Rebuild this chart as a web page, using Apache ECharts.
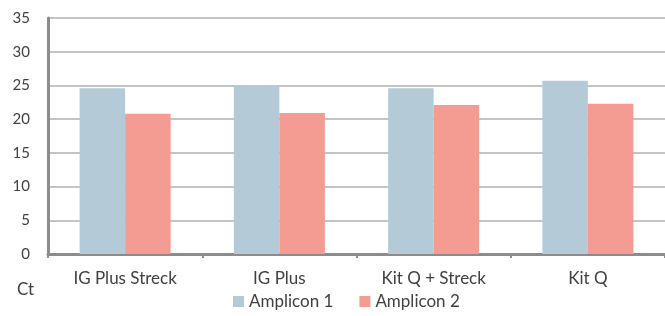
<!DOCTYPE html>
<html>
<head>
<meta charset="utf-8">
<script src="https://cdn.jsdelivr.net/npm/echarts@6/dist/echarts.min.js"></script>
<style>
  html, body { margin: 0; padding: 0; background: #fff; }
  #chart { width: 665px; height: 316px; }
</style>
</head>
<body>
<div id="chart"></div>
<script>
// 数据
const categories = ["IG Plus Streck", "IG Plus", "Kit Q + Streck", "Kit Q"]
const amplicon1 = [24.6, 25.0, 24.6, 25.7]
const amplicon2 = [20.8, 20.9, 22.1, 22.3]
const seriesNames = ["Amplicon 1", "Amplicon 2"]

const textColor = "#404040"
const fontFamily = "Lato, 'Open Sans', sans-serif"

const chart = echarts.init(document.getElementById("chart"), null, { renderer: "canvas" })

const option = {
  backgroundColor: "#fff",
  animation: false,
  grid: { left: 48, right: 0, top: 18, bottom: 62 },
  legend: {
    bottom: 1,
    left: 228,
    itemWidth: 11,
    itemHeight: 11,
    itemGap: 26,
    icon: "rect",
    textStyle: { color: textColor, fontSize: 17, fontFamily: fontFamily },
    data: seriesNames
  },
  graphic: [
    {
      type: "text",
      left: 17,
      top: 281,
      style: { text: "Ct", fill: textColor, fontSize: 17, fontFamily: fontFamily }
    }
  ],
  xAxis: {
    type: "category",
    data: categories,
    axisLine: { lineStyle: { color: "#8c8c8c", width: 3 } },
    axisTick: { show: true, length: 4, lineStyle: { color: "#8c8c8c", width: 2 } },
    axisLabel: { color: textColor, fontSize: 17, fontFamily: fontFamily, margin: 16 }
  },
  yAxis: {
    type: "value",
    min: 0,
    max: 35,
    interval: 5,
    axisLine: { show: true, lineStyle: { color: "#8c8c8c", width: 3 } },
    axisTick: { show: false },
    splitLine: { lineStyle: { color: "#b0b0b0", width: 1.5 } },
    axisLabel: { color: textColor, fontSize: 15, fontFamily: fontFamily, margin: 18 }
  },
  series: [
    {
      name: seriesNames[0],
      type: "bar",
      data: amplicon1,
      barGap: "0%",
      barCategoryGap: "41%",
      itemStyle: { color: "#b4cad6" }
    },
    {
      name: seriesNames[1],
      type: "bar",
      data: amplicon2,
      itemStyle: { color: "#f49c92" }
    }
  ]
}

chart.setOption(option)
</script>
</body>
</html>
